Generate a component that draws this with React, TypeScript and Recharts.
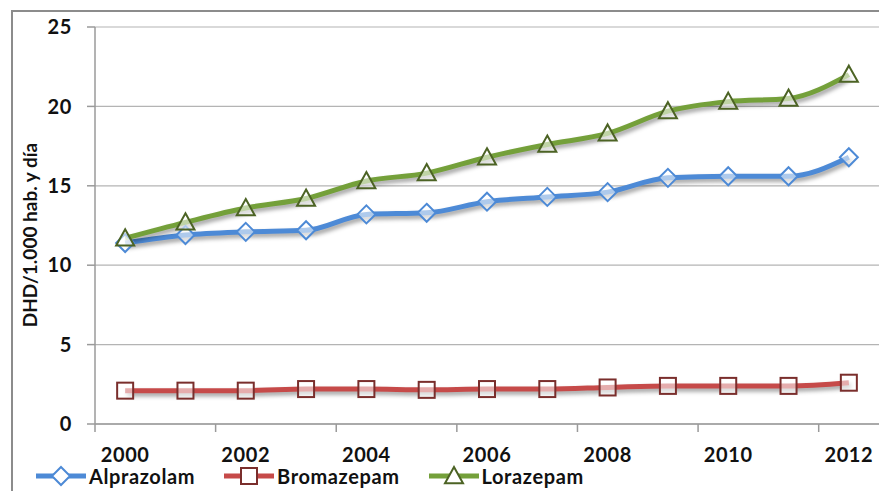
import React from 'react';
import { LineChart, Line, XAxis, YAxis, CartesianGrid, Legend } from 'recharts';

// DHD per 1,000 inhabitants per day, 2000-2012
const years = [2000, 2001, 2002, 2003, 2004, 2005, 2006, 2007, 2008, 2009, 2010, 2011, 2012];
const alprazolam = [11.4, 11.9, 12.1, 12.2, 13.2, 13.3, 14.0, 14.3, 14.6, 15.5, 15.6, 15.6, 16.8];
const bromazepam = [2.1, 2.1, 2.1, 2.2, 2.2, 2.15, 2.2, 2.2, 2.3, 2.4, 2.4, 2.4, 2.6];
const lorazepam = [11.7, 12.7, 13.6, 14.2, 15.3, 15.8, 16.8, 17.6, 18.3, 19.7, 20.3, 20.5, 22.0];
const yTicks = [0, 5, 10, 15, 20, 25];
const labelYears = [2000, 2002, 2004, 2006, 2008, 2010, 2012];

const data = years.map((year, i) => ({
  year,
  Alprazolam: alprazolam[i],
  Bromazepam: bromazepam[i],
  Lorazepam: lorazepam[i],
}));

// labels sit on even years, tick marks on category boundaries in between
const xTicks = labelYears.flatMap((y) => [y - 0.5, y]);

const FONT = 'Lato, "Open Sans", sans-serif';
const AXIS = '#9a9a9a';

const series = [
  { key: 'Alprazolam', line: '#4d8ad6', mark: '#4d8ad6', shape: 'diamond' },
  { key: 'Bromazepam', line: '#c64a49', mark: '#7a2e2c', shape: 'square' },
  { key: 'Lorazepam', line: '#74a03a', mark: '#4c6324', shape: 'triangle' },
];

const Marker = ({ shape, cx, cy, color, fill = 'rgba(255,255,255,0.55)' }: any) => {
  if (cx == null || cy == null) return null;
  if (shape === 'diamond') {
    const r = 9;
    return (
      <polygon
        points={`${cx},${cy - r} ${cx + r},${cy} ${cx},${cy + r} ${cx - r},${cy}`}
        fill={fill}
        stroke={color}
        strokeWidth={2}
      />
    );
  }
  if (shape === 'square') {
    const r = 8;
    return <rect x={cx - r} y={cy - r} width={r * 2} height={r * 2} fill={fill} stroke={color} strokeWidth={2} />;
  }
  const r = 9;
  return (
    <polygon
      points={`${cx},${cy - r} ${cx + r},${cy + r * 0.8} ${cx - r},${cy + r * 0.8}`}
      fill={fill}
      stroke={color}
      strokeWidth={2}
    />
  );
};

const XTick = ({ x, y, payload }: any) => {
  const v = payload.value;
  if (v % 1 !== 0) {
    return <line x1={x} x2={x} y1={y - 8} y2={y} stroke={AXIS} strokeWidth={1.5} />;
  }
  return (
    <text
      x={x}
      y={y + 30}
      textAnchor="middle"
      fill="#111"
      fontSize={20}
      fontWeight={700}
      fontFamily={FONT}
      letterSpacing={0.6}
    >
      {v}
    </text>
  );
};

const renderLegend = () => (
  <div
    style={{
      display: 'flex',
      alignItems: 'center',
      fontFamily: FONT,
      fontSize: 20,
      fontWeight: 700,
      color: '#111',
      letterSpacing: 0.6,
    }}
  >
    {series.map((s) => (
      <div key={s.key} style={{ display: 'flex', alignItems: 'center', marginRight: 28 }}>
        <svg width={52} height={22}>
          <line x1={1} x2={51} y1={11} y2={11} stroke={s.line} strokeWidth={5} />
          <Marker shape={s.shape} cx={26} cy={11} color={s.mark} fill="#fff" />
        </svg>
        <span style={{ marginLeft: 2 }}>{s.key}</span>
      </div>
    ))}
  </div>
);

export default function App() {
  return (
    <div style={{ position: 'absolute', left: 0, top: 0, width: 879, height: 491, overflow: 'hidden', background: '#fff' }}>
      <style>{`.shadowed { filter: drop-shadow(2px 3px 2px rgba(0,0,0,0.38)); }`}</style>
      <div
        style={{
          position: 'absolute',
          left: 11,
          top: 10,
          width: 900,
          height: 520,
          border: '2px solid #8c8c8c',
          boxSizing: 'border-box',
        }}
      />
      <div style={{ position: 'absolute', left: 0, top: 0 }}>
        <LineChart width={879} height={491} data={data} margin={{ top: 27, right: 0, left: 0, bottom: 27 }}>
          <CartesianGrid vertical={false} stroke="#b4b4b4" strokeWidth={1.2} />
          <XAxis
            dataKey="year"
            type="number"
            domain={[1999.5, 2012.5]}
            ticks={xTicks}
            interval={0}
            tick={<XTick />}
            tickLine={false}
            tickSize={8}
            tickMargin={0}
            height={40}
            axisLine={{ stroke: AXIS, strokeWidth: 1.5 }}
          />
          <YAxis
            domain={[0, 25]}
            ticks={yTicks}
            width={95}
            tickSize={8}
            tickMargin={15}
            axisLine={{ stroke: AXIS, strokeWidth: 1.5 }}
            tickLine={{ stroke: AXIS, strokeWidth: 1.5 }}
            tick={{ fill: '#111', fontSize: 20, fontWeight: 700, fontFamily: FONT, letterSpacing: 0.6 }}
            label={{
              content: () => (
                <text
                  transform="translate(37, 235) rotate(-90)"
                  textAnchor="middle"
                  fill="#111"
                  fontSize={19}
                  fontWeight={700}
                  fontFamily={FONT}
                >
                  DHD/1.000 hab. y día
                </text>
              ),
            }}
          />
          <Legend
            layout="horizontal"
            verticalAlign="middle"
            content={renderLegend}
            wrapperStyle={{ top: 464, left: 35, width: 'auto' }}
          />
          {series.map((s) => (
            <Line
              key={s.key}
              className="shadowed"
              type="monotone"
              dataKey={s.key}
              stroke={s.line}
              strokeWidth={5}
              dot={(p: any) => <Marker key={`${s.key}-${p.index}`} shape={s.shape} cx={p.cx} cy={p.cy} color={s.mark} />}
              activeDot={false}
              isAnimationActive={false}
            />
          ))}
        </LineChart>
      </div>
    </div>
  );
}
